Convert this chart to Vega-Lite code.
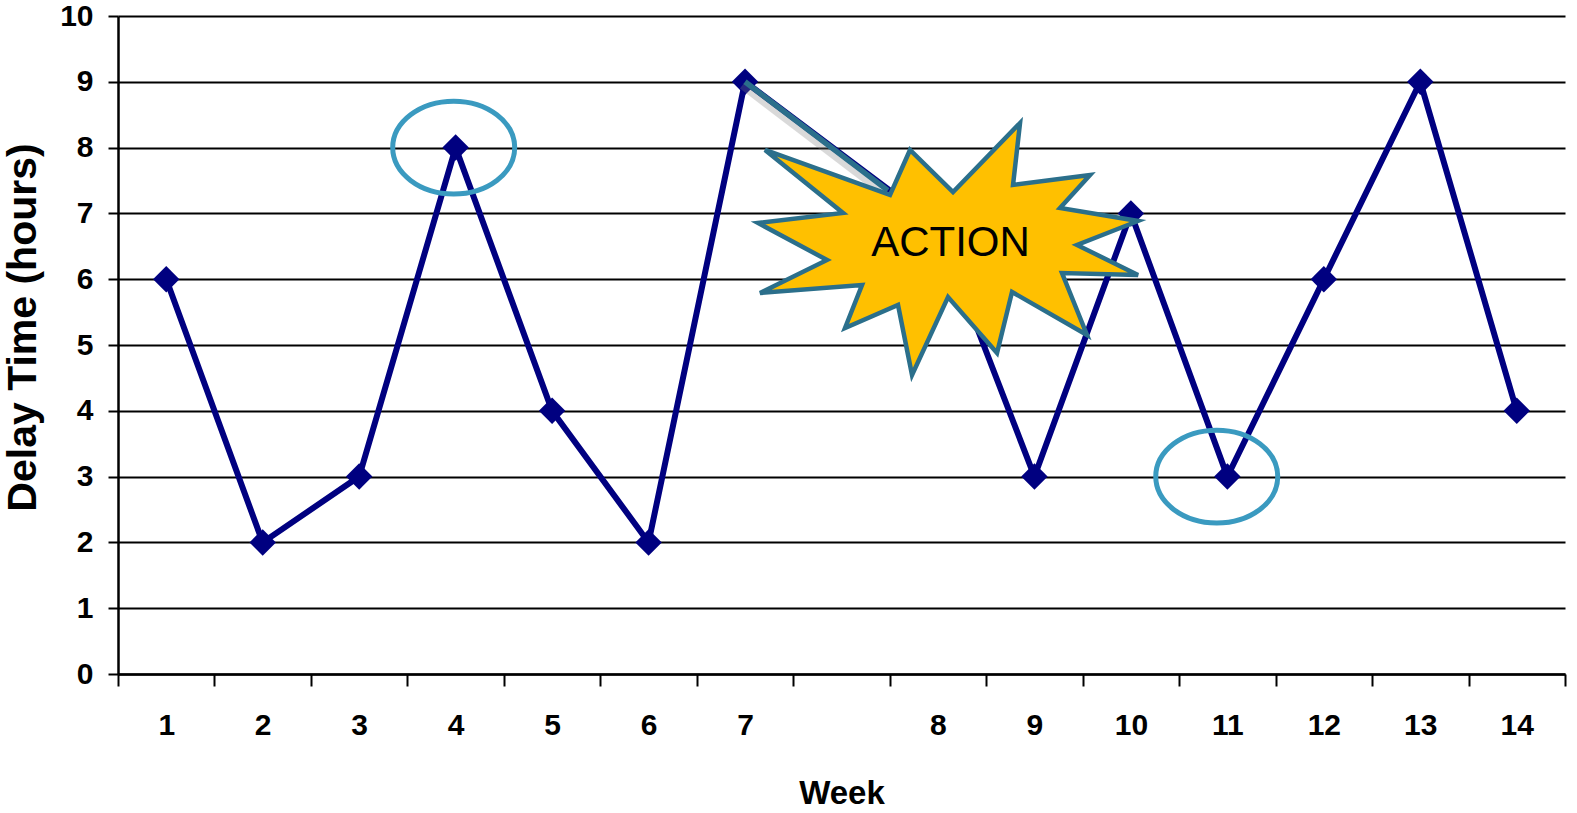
{
  "$schema": "https://vega.github.io/schema/vega-lite/v6.json",
  "width": 1447,
  "height": 658,
  "autosize": {"type": "none"},
  "padding": {"left": 118, "top": 16, "right": 12, "bottom": 139},
  "background": "white",
  "config": {"font": "Liberation Sans", "view": {"stroke": null}},
  "layer": [
    {
      "data": {
        "values": [
          {"week": 1, "hours": 6},
          {"week": 2, "hours": 2},
          {"week": 3, "hours": 3},
          {"week": 4, "hours": 8},
          {"week": 5, "hours": 4},
          {"week": 6, "hours": 2},
          {"week": 7, "hours": 9},
          {"week": 8, "hours": 6.8},
          {"week": 9, "hours": 3},
          {"week": 10, "hours": 7},
          {"week": 11, "hours": 3},
          {"week": 12, "hours": 6},
          {"week": 13, "hours": 9},
          {"week": 14, "hours": 4}
        ]
      },
      "mark": {
        "type": "line",
        "color": "#000080",
        "strokeWidth": 6,
        "point": {"shape": "diamond", "filled": true, "size": 700, "color": "#000080", "opacity": 1}
      },
      "encoding": {
        "x": {
          "field": "week",
          "type": "ordinal",
          "bandPosition": 0.5,
          "scale": {
            "type": "band",
            "domain": [1, 2, 3, 4, 5, 6, 7, 7.5, 8, 9, 10, 11, 12, 13, 14],
            "paddingInner": 0,
            "paddingOuter": 0
          },
          "axis": {
            "title": "Week",
            "tickBand": "extent",
            "labelExpr": "datum.value == 7.5 ? '' : datum.label",
            "labelAngle": 0,
            "labelFontSize": 30,
            "labelFontWeight": "bold",
            "labelColor": "black",
            "labelPadding": 24,
            "tickSize": 12,
            "tickWidth": 2,
            "tickColor": "black",
            "domainColor": "black",
            "domainWidth": 2.5,
            "grid": false,
            "titleFontSize": 33,
            "titleFontWeight": "bold",
            "titleColor": "black",
            "titleBaseline": "alphabetic",
            "titleY": 129
          }
        },
        "y": {
          "field": "hours",
          "type": "quantitative",
          "scale": {"domain": [0, 10], "nice": false},
          "axis": {
            "title": "Delay Time (hours)",
            "values": [0, 1, 2, 3, 4, 5, 6, 7, 8, 9, 10],
            "grid": true,
            "gridColor": "black",
            "gridWidth": 2,
            "gridOpacity": 1,
            "labelFontSize": 30,
            "labelFontWeight": "bold",
            "labelColor": "black",
            "labelPadding": 15,
            "tickSize": 10,
            "tickWidth": 2,
            "tickColor": "black",
            "domainColor": "black",
            "domainWidth": 2.5,
            "titleFontSize": 41,
            "titleFontWeight": "bold",
            "titleColor": "black",
            "titleAngle": -90,
            "titleBaseline": "bottom",
            "titleAlign": "center",
            "titleX": -74,
            "titleY": 311
          }
        },
        "order": {"field": "week", "type": "quantitative"}
      }
    },
    {
      "data": {"values": [{"xi": 3.48, "yv": 8}, {"xi": 11.39, "yv": 3}]},
      "mark": {
        "type": "point",
        "shape": "M 1 0 C 1 0.42 0.552 0.76 0 0.76 C -0.552 0.76 -1 0.42 -1 0 C -1 -0.42 -0.552 -0.76 0 -0.76 C 0.552 -0.76 1 -0.42 1 0 Z",
        "size": 14884,
        "filled": false,
        "color": "#3A9AC0",
        "stroke": "#3A9AC0",
        "strokeWidth": 5,
        "opacity": 1
      },
      "encoding": {
        "x": {"field": "xi", "type": "quantitative", "scale": {"domain": [0, 15], "nice": false, "zero": false}, "axis": null},
        "y": {"field": "yv", "type": "quantitative", "scale": {"domain": [0, 10], "nice": false}, "axis": null}
      }
    },
    {
      "data": {"values": [{"x1": 6.5, "y1": 9, "x2": 7.98, "y2": 7.35}]},
      "mark": {
        "type": "rule",
        "color": "#808080",
        "opacity": 0.3,
        "strokeWidth": 7,
        "xOffset": -3,
        "x2Offset": -3,
        "yOffset": 4,
        "y2Offset": 4
      },
      "encoding": {
        "x": {"field": "x1", "type": "quantitative", "scale": {"domain": [0, 15], "nice": false, "zero": false}, "axis": null},
        "y": {"field": "y1", "type": "quantitative", "scale": {"domain": [0, 10], "nice": false}, "axis": null},
        "x2": {"field": "x2"},
        "y2": {"field": "y2"}
      }
    },
    {
      "data": {"values": [{"xi": 8.625, "yv": 6.444}]},
      "mark": {
        "type": "point",
        "shape": "M -1.85 -1.00 L -0.60 -0.55 L -0.40 -1.00 L 0.03 -0.58 L 0.70 -1.27 L 0.63 -0.65 L 1.40 -0.75 L 1.10 -0.42 L 1.88 -0.29 L 1.27 -0.05 L 1.88 0.25 L 1.12 0.23 L 1.37 0.85 L 0.62 0.42 L 0.47 1.03 L -0.02 0.47 L -0.38 1.25 L -0.52 0.55 L -1.05 0.78 L -0.88 0.35 L -1.90 0.43 L -1.23 0.10 L -1.92 -0.27 L -1.07 -0.37 Z",
        "size": 40000,
        "filled": true,
        "fill": "#FFC000",
        "fillOpacity": 1,
        "stroke": "#2B6F8B",
        "strokeWidth": 4.5,
        "opacity": 1
      },
      "encoding": {
        "x": {"field": "xi", "type": "quantitative", "scale": {"domain": [0, 15], "nice": false, "zero": false}, "axis": null},
        "y": {"field": "yv", "type": "quantitative", "scale": {"domain": [0, 10], "nice": false}, "axis": null}
      }
    },
    {
      "data": {"values": [{"x1": 6.5, "y1": 9, "x2": 7.98, "y2": 7.35}]},
      "mark": {"type": "rule", "color": "#2B6F8B", "strokeWidth": 5.5},
      "encoding": {
        "x": {"field": "x1", "type": "quantitative", "scale": {"domain": [0, 15], "nice": false, "zero": false}, "axis": null},
        "y": {"field": "y1", "type": "quantitative", "scale": {"domain": [0, 10], "nice": false}, "axis": null},
        "x2": {"field": "x2"},
        "y2": {"field": "y2"}
      }
    },
    {
      "data": {"values": [{"xi": 8.63, "yv": 6.55, "label": "ACTION"}]},
      "mark": {"type": "text", "fontSize": 42, "color": "black", "align": "center", "baseline": "middle"},
      "encoding": {
        "x": {"field": "xi", "type": "quantitative", "scale": {"domain": [0, 15], "nice": false, "zero": false}, "axis": null},
        "y": {"field": "yv", "type": "quantitative", "scale": {"domain": [0, 10], "nice": false}, "axis": null},
        "text": {"field": "label"}
      }
    }
  ],
  "resolve": {"scale": {"x": "independent", "y": "independent"}}
}
